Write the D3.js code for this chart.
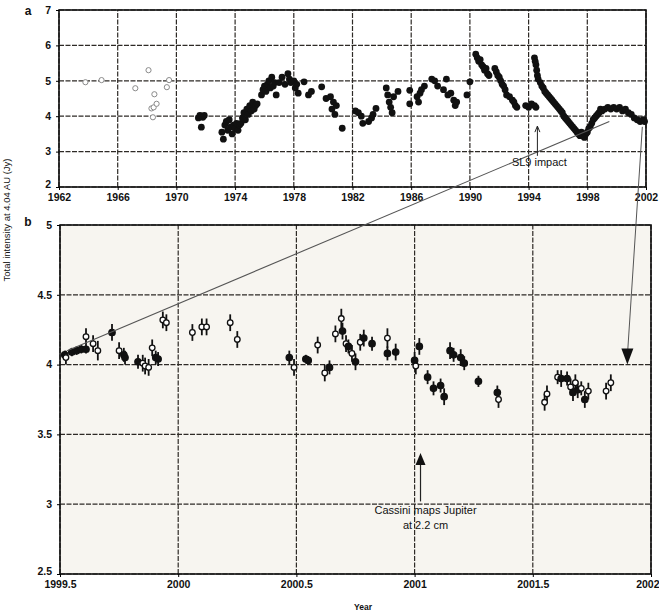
<!DOCTYPE html>
<html>
<head>
<meta charset="utf-8">
<script src="https://cdnjs.cloudflare.com/ajax/libs/d3/7.8.5/d3.min.js"></script>
<style>
  body { margin: 0; background: #fff; }
  text { font-family: "Liberation Sans", Arial, sans-serif; fill: #111; }
</style>
</head>
<body>
<div id="chart"></div>
<script>
// ---- panel a: long term record (early open points, later filled points)
var earlyYears = [1963.8, 1964.9, 1967.2, 1968.1, 1968.5, 1968.3, 1968.45, 1968.65, 1968.4, 1969.35, 1969.5];
var earlyVals  = [4.96, 5.02, 4.79, 5.30, 4.62, 4.22, 4.25, 4.35, 3.97, 4.82, 5.02];

var lateYears = [
  1971.5, 1971.6, 1971.7, 1971.8, 1971.9, 1971.7,
  1973.1, 1973.2, 1973.3, 1973.4, 1973.5, 1973.6, 1973.7, 1973.8, 1973.9, 1974.0, 1974.1, 1974.2, 1974.3,
  1974.4, 1974.5, 1974.6, 1974.7, 1974.8, 1974.9, 1975.0, 1975.1, 1975.2, 1975.3, 1975.4, 1975.5,
  1975.8, 1975.9, 1976.0, 1976.1, 1976.2, 1976.3, 1976.4, 1976.5, 1976.6, 1976.7, 1976.8,
  1977.0, 1977.2, 1977.4, 1977.6, 1977.7, 1977.8, 1978.0, 1978.1, 1978.2, 1978.3,
  1978.7, 1979.0, 1979.2, 1979.9, 1980.2, 1980.5, 1980.6, 1980.7, 1980.8, 1980.9, 1981.3,
  1982.2, 1982.4, 1982.6, 1982.7, 1983.1, 1983.3, 1983.4, 1983.6,
  1984.3, 1984.4, 1984.5, 1984.6, 1984.7, 1984.8, 1985.1,
  1985.9, 1985.9, 1986.4, 1986.5, 1986.6, 1986.7, 1986.9,
  1987.4, 1987.6, 1987.8, 1988.4, 1988.2, 1988.5, 1988.7, 1988.9, 1989.0, 1989.1, 1990.0, 1989.8,
  1990.4, 1990.5, 1990.6, 1990.7, 1990.8, 1990.9, 1991.0, 1991.1, 1991.2, 1991.3,
  1991.7, 1991.8, 1991.9, 1992.0, 1992.1, 1992.2, 1992.3, 1992.4, 1992.5, 1992.7, 1992.9, 1993.0, 1993.1, 1993.2,
  1993.8, 1994.0, 1994.2, 1994.4, 1994.5,
  1994.4, 1994.45, 1994.5, 1994.55, 1994.6, 1994.65,
  1994.8, 1994.9, 1995.0, 1995.1, 1995.2, 1995.3, 1995.4, 1995.5, 1995.6, 1995.7, 1995.8, 1995.9, 1996.0, 1996.1,
  1996.2, 1996.3, 1996.4, 1996.5, 1996.6, 1996.7, 1996.8, 1996.9, 1997.0, 1997.1, 1997.2, 1997.3, 1997.4, 1997.5, 1997.6, 1997.7, 1997.8, 1997.9,
  1998.0, 1998.1, 1998.2, 1998.3, 1998.4, 1998.5, 1998.6, 1998.7, 1998.8, 1998.9,
  1999.0, 1999.2, 1999.4, 1999.6, 1999.8, 2000.0, 2000.2, 2000.4, 2000.6, 2000.8, 2001.0,
  2001.2, 2001.4, 2001.6, 2001.8, 2001.9
];
var lateVals = [
  3.95, 4.02, 4.00, 3.97, 4.02, 3.69,
  3.55, 3.35, 3.75, 3.85, 3.60, 3.90, 3.70, 3.50, 3.75, 3.65, 3.80, 3.60, 3.75,
  3.80, 3.95, 4.10, 3.90, 4.20, 4.05, 4.30, 4.15, 4.40, 4.20, 4.30, 4.35,
  4.60, 4.75, 4.85, 4.70, 4.90, 5.00, 4.80, 5.10, 4.85, 4.95, 4.60,
  4.95, 5.10, 4.90, 5.20, 5.05, 4.95, 5.00, 4.80, 4.90, 4.65,
  4.97, 4.60, 4.70, 4.83, 4.50, 4.55, 4.20, 4.40, 4.05, 4.30, 3.66,
  4.15, 4.10, 4.00, 3.80, 3.85, 3.95, 4.05, 4.22,
  4.80, 4.60, 4.40, 4.25, 4.10, 4.55, 4.70,
  4.73, 4.35, 4.55, 4.40, 4.65, 4.75, 4.85,
  5.05, 5.00, 4.85, 5.05, 4.75, 4.60, 4.65, 4.45, 4.30, 4.40, 4.97, 4.60,
  5.75, 5.65, 5.55, 5.60, 5.45, 5.40, 5.30, 5.35, 5.20, 5.15,
  5.35, 5.25, 5.15, 5.10, 5.00, 4.90, 4.85, 4.75, 4.60, 4.55, 4.45, 4.40, 4.30, 4.25,
  4.30, 4.25, 4.35, 4.30, 4.25,
  5.65, 5.55, 5.45, 5.30, 5.15, 5.05,
  4.95, 4.85, 4.80, 4.70, 4.65, 4.60, 4.55, 4.50, 4.45, 4.40, 4.35, 4.30, 4.25, 4.20,
  4.15, 4.10, 4.00, 3.95, 3.90, 3.85, 3.80, 3.75, 3.70, 3.65, 3.60, 3.55, 3.50, 3.45, 3.55, 3.45, 3.40, 3.50,
  3.55, 3.65, 3.70, 3.80, 3.90, 3.95, 4.00, 4.05, 4.10, 4.20,
  4.15, 4.20, 4.25, 4.20, 4.25, 4.20, 4.25, 4.15, 4.20, 4.10, 4.05,
  3.95, 3.90, 3.85, 3.90, 3.85
];

var topXTicks = [1962, 1966, 1970, 1974, 1978, 1982, 1986, 1990, 1994, 1998, 2002];
var topYTicks = [2, 3, 4, 5, 6, 7];

// ---- panel b: 1999.5 - 2002 detail (open = 1 for open circle, 0 for filled)
var bYears = [
  1999.52, 1999.55, 1999.57, 1999.59, 1999.61, 1999.525, 1999.61, 1999.64, 1999.66, 1999.72,
  1999.75, 1999.77, 1999.775, 1999.83, 1999.85, 1999.86, 1999.875, 1999.89, 1999.905, 1999.915,
  1999.935, 1999.95, 2000.06, 2000.10, 2000.12, 2000.22, 2000.25,
  2000.47, 2000.49, 2000.54, 2000.55, 2000.59, 2000.62, 2000.64, 2000.665, 2000.69, 2000.695,
  2000.71, 2000.72, 2000.735, 2000.75, 2000.77, 2000.785, 2000.82, 2000.885, 2000.885, 2000.92,
  2001.0, 2001.005, 2001.02, 2001.055, 2001.08, 2001.11, 2001.125, 2001.15, 2001.165, 2001.195, 2001.21,
  2001.27, 2001.35, 2001.355,
  2001.55, 2001.56, 2001.605, 2001.62, 2001.645, 2001.66, 2001.67, 2001.68, 2001.69, 2001.705, 2001.72, 2001.735,
  2001.81, 2001.83
];
var bVals = [
  4.07, 4.09, 4.10, 4.11, 4.11, 4.05, 4.20, 4.15, 4.10, 4.23,
  4.10, 4.07, 4.05, 4.02, 4.01, 3.99, 3.98, 4.12, 4.05, 4.04,
  4.32, 4.30, 4.23, 4.27, 4.27, 4.30, 4.18,
  4.05, 3.98, 4.04, 4.03, 4.14, 3.94, 3.98, 4.22, 4.33, 4.24,
  4.15, 4.13, 4.08, 4.02, 4.16, 4.19, 4.15, 4.19, 4.08, 4.09,
  4.03, 3.99, 4.13, 3.91, 3.83, 3.85, 3.77, 4.10, 4.07, 4.05, 4.01,
  3.88, 3.80, 3.75,
  3.73, 3.79, 3.91, 3.90, 3.90, 3.84, 3.80, 3.87, 3.82, 3.83, 3.75, 3.81,
  3.81, 3.87
];
var bErr = [
  0.03, 0.03, 0.03, 0.03, 0.03, 0.05, 0.06, 0.06, 0.07, 0.06,
  0.06, 0.05, 0.05, 0.05, 0.06, 0.06, 0.06, 0.06, 0.05, 0.05,
  0.06, 0.06, 0.06, 0.06, 0.06, 0.06, 0.06,
  0.05, 0.06, 0.03, 0.03, 0.06, 0.06, 0.05, 0.06, 0.07, 0.06,
  0.06, 0.05, 0.06, 0.06, 0.06, 0.06, 0.05, 0.07, 0.05, 0.06,
  0.06, 0.06, 0.06, 0.05, 0.05, 0.05, 0.06, 0.06, 0.05, 0.06, 0.05,
  0.04, 0.05, 0.06,
  0.06, 0.06, 0.05, 0.06, 0.05, 0.06, 0.06, 0.06, 0.06, 0.05, 0.06, 0.06,
  0.06, 0.06
];
var bOpen = [
  0, 0, 0, 0, 0, 1, 1, 1, 1, 0,
  1, 0, 0, 0, 1, 1, 1, 1, 0, 0,
  1, 1, 1, 1, 1, 1, 1,
  0, 1, 0, 0, 1, 1, 0, 1, 1, 0,
  1, 0, 1, 0, 1, 0, 0, 1, 0, 0,
  0, 1, 0, 0, 0, 0, 0, 0, 0, 0, 0,
  0, 0, 1,
  1, 1, 1, 0, 0, 1, 0, 1, 0, 1, 0, 1,
  1, 1
];

var botXTicks = [1999.5, 2000, 2000.5, 2001, 2001.5, 2002];
var botXLabels = ["1999.5", "2000", "2000.5", "2001", "2001.5", "2002"];
var botYTicks = [2.5, 3, 3.5, 4, 4.5, 5];

var width = 659, height = 616;

var svg = d3.select("#chart").append("svg")
    .attr("width", width)
    .attr("height", height);

// scales
var xt = d3.scaleLinear().domain([1962, 2002]).range([59, 646]),
    yt = d3.scaleLinear().domain([2, 7]).range([187, 10]),
    xb = d3.scaleLinear().domain([1999.5, 2002]).range([60, 651]),
    yb = d3.scaleLinear().domain([2.5, 5]).range([574, 225]);

function gridLines(g, xs, ys, xVals, yVals) {
    g.selectAll(".gx").data(xVals).enter().append("line")
        .attr("x1", function (d) { return xs(d); })
        .attr("x2", function (d) { return xs(d); })
        .attr("y1", ys.range()[0]).attr("y2", ys.range()[1])
        .attr("stroke", "#2e2a26").attr("stroke-width", 1.2)
        .attr("stroke-dasharray", "5,1.5");
    g.selectAll(".gy").data(yVals).enter().append("line")
        .attr("y1", function (d) { return ys(d); })
        .attr("y2", function (d) { return ys(d); })
        .attr("x1", xs.range()[0]).attr("x2", xs.range()[1])
        .attr("stroke", "#2e2a26").attr("stroke-width", 1.2)
        .attr("stroke-dasharray", "5,1.5");
}

function styleAxis(g) {
    g.select(".domain").remove();
    g.selectAll("text").attr("font-size", 10.5).attr("font-weight", "bold");
}

// lift the lowest y label so it clears the year labels below
function liftLowest(lowest) {
    return function (g) {
        g.selectAll(".tick text").filter(function (d) { return d === lowest; })
            .attr("dy", "0.05em");
    };
}

// ---------- panel a
var ga = svg.append("g");
gridLines(ga, xt, yt, topXTicks, topYTicks);
ga.append("rect")
    .attr("x", xt.range()[0]).attr("y", yt.range()[1])
    .attr("width", xt.range()[1] - xt.range()[0])
    .attr("height", yt.range()[0] - yt.range()[1])
    .attr("fill", "none").attr("stroke", "#111").attr("stroke-width", 1.6);

ga.append("g")
    .attr("transform", "translate(0," + yt.range()[0] + ")")
    .call(d3.axisBottom(xt).tickValues(topXTicks).tickFormat(d3.format("d")).tickSize(3).tickPadding(4))
    .call(styleAxis);
ga.append("g")
    .attr("transform", "translate(" + xt.range()[0] + ",0)")
    .call(d3.axisLeft(yt).tickValues(topYTicks).tickFormat(d3.format("d")).tickSize(3).tickPadding(5))
    .call(styleAxis)
    .call(liftLowest(2));

ga.selectAll(".early").data(earlyYears).enter().append("circle")
    .attr("cx", function (d) { return xt(d); })
    .attr("cy", function (d, i) { return yt(earlyVals[i]); })
    .attr("r", 2.6)
    .attr("fill", "#fff").attr("stroke", "#8a8a8a").attr("stroke-width", 1);

ga.selectAll(".late").data(lateYears).enter().append("circle")
    .attr("cx", function (d) { return xt(d); })
    .attr("cy", function (d, i) { return yt(lateVals[i]); })
    .attr("r", 3.4)
    .attr("fill", "#111");

svg.append("text").attr("x", 28).attr("y", 15)
    .attr("text-anchor", "middle").attr("font-size", 12).attr("font-weight", "bold").text("a");

// ---------- panel b
var gb = svg.append("g");
gb.append("rect")
    .attr("x", xb.range()[0]).attr("y", yb.range()[1])
    .attr("width", xb.range()[1] - xb.range()[0])
    .attr("height", yb.range()[0] - yb.range()[1])
    .attr("fill", "#f7f5f0");
gridLines(gb, xb, yb, botXTicks, botYTicks);
gb.append("rect")
    .attr("x", xb.range()[0]).attr("y", yb.range()[1])
    .attr("width", xb.range()[1] - xb.range()[0])
    .attr("height", yb.range()[0] - yb.range()[1])
    .attr("fill", "none").attr("stroke", "#111").attr("stroke-width", 1.6);

gb.append("g")
    .attr("transform", "translate(0," + yb.range()[0] + ")")
    .call(d3.axisBottom(xb).tickValues(botXTicks)
        .tickFormat(function (d, i) { return botXLabels[i]; }).tickSize(3).tickPadding(4))
    .call(styleAxis)
    .call(function (g) {
        // keep the last label inside the window
        g.selectAll("text").filter(function (d) { return d === 2002; })
            .attr("text-anchor", "end").attr("dx", 8);
    });
gb.append("g")
    .attr("transform", "translate(" + xb.range()[0] + ",0)")
    .call(d3.axisLeft(yb).tickValues(botYTicks).tickFormat(d3.format("")).tickSize(3).tickPadding(5))
    .call(styleAxis)
    .call(liftLowest(2.5));

// error bars
gb.selectAll(".err").data(bYears).enter().append("line")
    .attr("x1", function (d) { return xb(d); })
    .attr("x2", function (d) { return xb(d); })
    .attr("y1", function (d, i) { return yb(bVals[i] - bErr[i]); })
    .attr("y2", function (d, i) { return yb(bVals[i] + bErr[i]); })
    .attr("stroke", "#111").attr("stroke-width", 1.8);

gb.selectAll(".pt").data(bYears).enter().append("circle")
    .attr("cx", function (d) { return xb(d); })
    .attr("cy", function (d, i) { return yb(bVals[i]); })
    .attr("r", function (d, i) { return bOpen[i] ? 2.8 : 3.2; })
    .attr("fill", function (d, i) { return bOpen[i] ? "#fff" : "#111"; })
    .attr("stroke", "#111").attr("stroke-width", 1.3);

svg.append("text").attr("x", 28).attr("y", 226)
    .attr("text-anchor", "middle").attr("font-size", 12).attr("font-weight", "bold").text("b");

// ---------- connecting lines and annotations
svg.append("line")
    .attr("x1", xb(1999.53)).attr("y1", yb(4.1))
    .attr("x2", xt(1999.5)).attr("y2", yt(3.85))
    .attr("stroke", "#555").attr("stroke-width", 1.1);

svg.append("line")
    .attr("x1", xt(2001.75)).attr("y1", yt(3.7))
    .attr("x2", xb(2001.9)).attr("y2", yb(4.06))
    .attr("stroke", "#555").attr("stroke-width", 1);
var tipX = xb(2001.9), tipY = yb(4.0);
svg.append("path")
    .attr("d", "M" + (tipX - 6) + "," + (tipY - 16) + "L" + (tipX + 6) + "," + (tipY - 16) + "L" + tipX + "," + tipY + "Z")
    .attr("fill", "#111");

// SL9 impact arrow
var sx = xt(1994.6);
svg.append("line")
    .attr("x1", sx).attr("x2", sx)
    .attr("y1", yt(2.88)).attr("y2", yt(3.72))
    .attr("stroke", "#222").attr("stroke-width", 1);
svg.append("path")
    .attr("d", "M" + (sx - 2.5) + "," + (yt(3.72) + 6) + "L" + sx + "," + yt(3.72) + "L" + (sx + 2.5) + "," + (yt(3.72) + 6))
    .attr("fill", "none").attr("stroke", "#222").attr("stroke-width", 1);
svg.append("text").attr("x", sx + 2).attr("y", yt(2.6))
    .attr("text-anchor", "middle").attr("font-size", 11).text("SL9 impact");

// Cassini arrow
var cx = xb(2001.025);
svg.append("line")
    .attr("x1", cx).attr("x2", cx)
    .attr("y1", yb(3.02)).attr("y2", yb(3.3))
    .attr("stroke", "#222").attr("stroke-width", 1.2);
svg.append("path")
    .attr("d", "M" + (cx - 5) + "," + (yb(3.28)) + "L" + (cx + 5) + "," + (yb(3.28)) + "L" + cx + "," + (yb(3.28) - 12) + "Z")
    .attr("fill", "#111");
svg.append("text").attr("x", cx + 5).attr("y", yb(2.93))
    .attr("text-anchor", "middle").attr("font-size", 11).text("Cassini maps Jupiter");
svg.append("text").attr("x", cx + 5).attr("y", yb(2.82))
    .attr("text-anchor", "middle").attr("font-size", 11).text("at 2.2 cm");

// axis titles
svg.append("text").attr("x", 363).attr("y", 610)
    .attr("text-anchor", "middle").attr("font-size", 8.5).attr("font-weight", "bold").text("Year");
svg.append("text")
    .attr("transform", "translate(10,220) rotate(-90)")
    .attr("text-anchor", "middle").attr("font-size", 9.5).text("Total intensity at 4.04 AU (Jy)");
</script>
</body>
</html>
